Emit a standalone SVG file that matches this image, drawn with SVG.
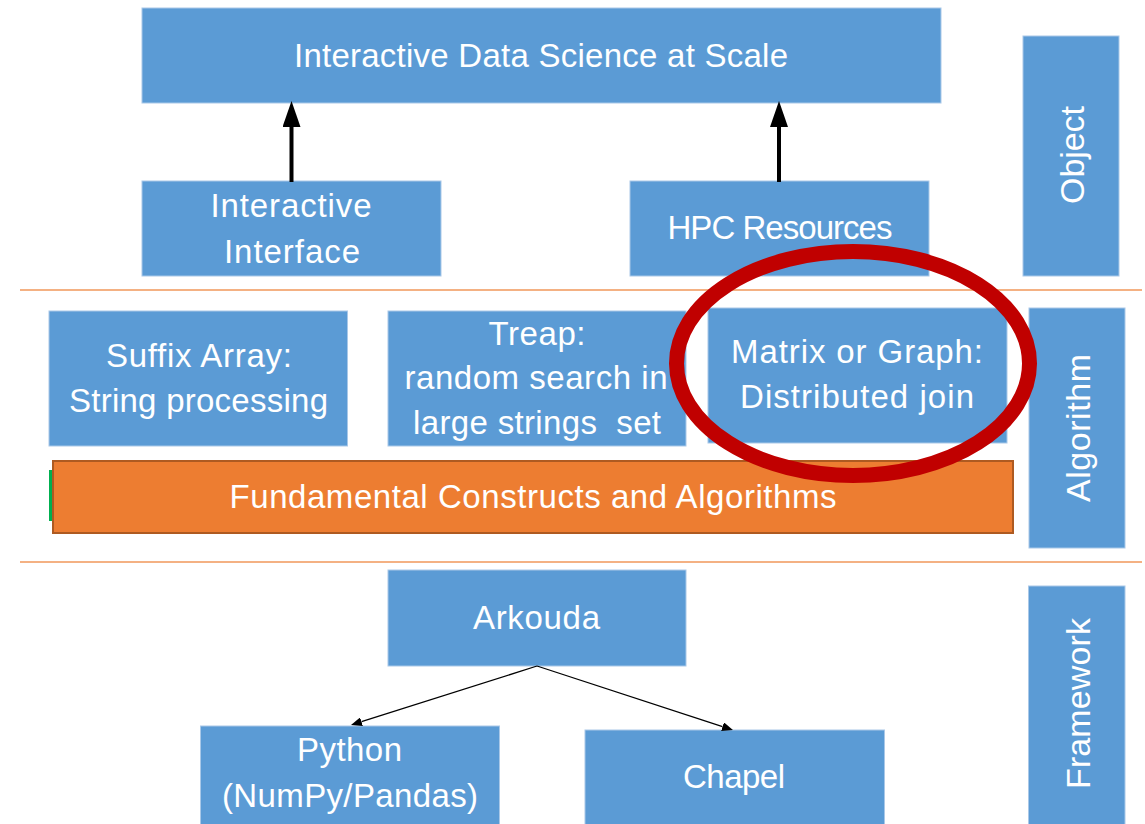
<svg xmlns="http://www.w3.org/2000/svg" width="1145" height="824" viewBox="0 0 1145 824">
<style>
.box{fill:#5b9bd5;stroke:#a9c8e8;stroke-width:1}
.t{font-family:"Liberation Sans",Arial,sans-serif;font-size:33px;fill:#ffffff;text-anchor:middle}
.r{font-family:"Liberation Sans",Arial,sans-serif;font-size:34px;fill:#ffffff;text-anchor:middle}
.sep{stroke:#f4b183;stroke-width:2}
.thick{stroke:#000;stroke-width:4;fill:none}
.thin{stroke:#000;stroke-width:1.3;fill:none}
</style>
<defs>
<marker id="bigHead" viewBox="0 0 26 18" markerWidth="26" markerHeight="18" refX="0" refY="9" orient="auto" markerUnits="userSpaceOnUse"><path d="M0,0 L26,9 L0,18 z" fill="#000"/></marker>
<marker id="smallHead" viewBox="0 0 11 9" markerWidth="11" markerHeight="9" refX="0" refY="4.5" orient="auto" markerUnits="userSpaceOnUse"><path d="M0,0 L11,4.5 L0,9 z" fill="#000"/></marker>
</defs>
<rect width="1145" height="824" fill="#ffffff"/>
<g id="separators">
<line class="sep" x1="20" y1="290" x2="1142" y2="290"/>
<line class="sep" x1="20" y1="562" x2="1142" y2="562"/>
</g>
<g id="node-title"><rect class="box" x="142" y="8" width="799" height="95"/><text class="t" x="541" y="67" textLength="494">Interactive Data Science at Scale</text></g>
<g id="node-interface"><rect class="box" x="142" y="181" width="299" height="95"/><text class="t" x="291" y="217" textLength="161">Interactive</text><text class="t" x="292" y="263" textLength="136">Interface</text></g>
<g id="node-hpc"><rect class="box" x="630" y="181" width="299" height="95"/><text class="t" x="780" y="239" textLength="225">HPC Resources</text></g>
<g id="node-object"><rect class="box" x="1023" y="36" width="96" height="240"/><text class="r" transform="translate(1083.5,155) rotate(-90)" x="0" y="0" textLength="98">Object</text></g>
<g id="node-suffix"><rect class="box" x="49" y="311" width="298.5" height="135"/><text class="t" x="199" y="367" textLength="186">Suffix Array:</text><text class="t" x="198.5" y="412" textLength="259">String processing</text></g>
<g id="node-treap"><rect class="box" x="388" y="311" width="298" height="135"/><text class="t" x="537" y="345" textLength="97">Treap:</text><text class="t" x="536" y="389" textLength="263">random search in</text><text class="t" x="537" y="434" textLength="248" xml:space="preserve">large strings  set</text></g>
<g id="node-matrix"><rect class="box" x="708" y="308" width="299" height="135"/><text class="t" x="857" y="363" textLength="252">Matrix or Graph:</text><text class="t" x="857" y="408" textLength="234">Distributed join</text></g>
<g id="node-algorithm"><rect class="box" x="1029" y="308" width="96" height="240"/><text class="r" transform="translate(1089.5,428) rotate(-90)" x="0" y="0" textLength="148">Algorithm</text></g>
<g id="node-fundamental"><rect x="49" y="470" width="4" height="51" fill="#00b050"/><rect x="53" y="461" width="960" height="72" fill="#ed7d31" stroke="#ae5a21" stroke-width="2"/><text class="t" x="533" y="508" textLength="607">Fundamental Constructs and Algorithms</text></g>
<g id="node-arkouda"><rect class="box" x="388" y="570" width="298" height="96"/><text class="t" x="536.5" y="629" textLength="127">Arkouda</text></g>
<g id="node-python"><rect class="box" x="200.5" y="726" width="299" height="110"/><text class="t" x="349.5" y="761" textLength="105">Python</text><text class="t" x="350" y="807" textLength="256">(NumPy/Pandas)</text></g>
<g id="node-chapel"><rect class="box" x="585" y="730" width="299.5" height="110"/><text class="t" x="734" y="788" textLength="102">Chapel</text></g>
<g id="node-framework"><rect class="box" x="1028.5" y="586" width="96.5" height="250"/><text class="r" transform="translate(1089.5,703.5) rotate(-90)" x="0" y="0" textLength="171">Framework</text></g>
<g id="connectors">
<line class="thick" x1="291.5" y1="182" x2="291.5" y2="127" marker-end="url(#bigHead)"/>
<line class="thick" x1="779" y1="182" x2="779" y2="127" marker-end="url(#bigHead)"/>
<line class="thin" x1="537" y1="666" x2="361.5" y2="721.7" marker-end="url(#smallHead)"/>
<line class="thin" x1="537" y1="666" x2="722.5" y2="726.6" marker-end="url(#smallHead)"/>
</g>
<g id="highlight"><ellipse cx="853" cy="363.5" rx="176.5" ry="112" fill="none" stroke="#c00000" stroke-width="15"/></g>
</svg>
